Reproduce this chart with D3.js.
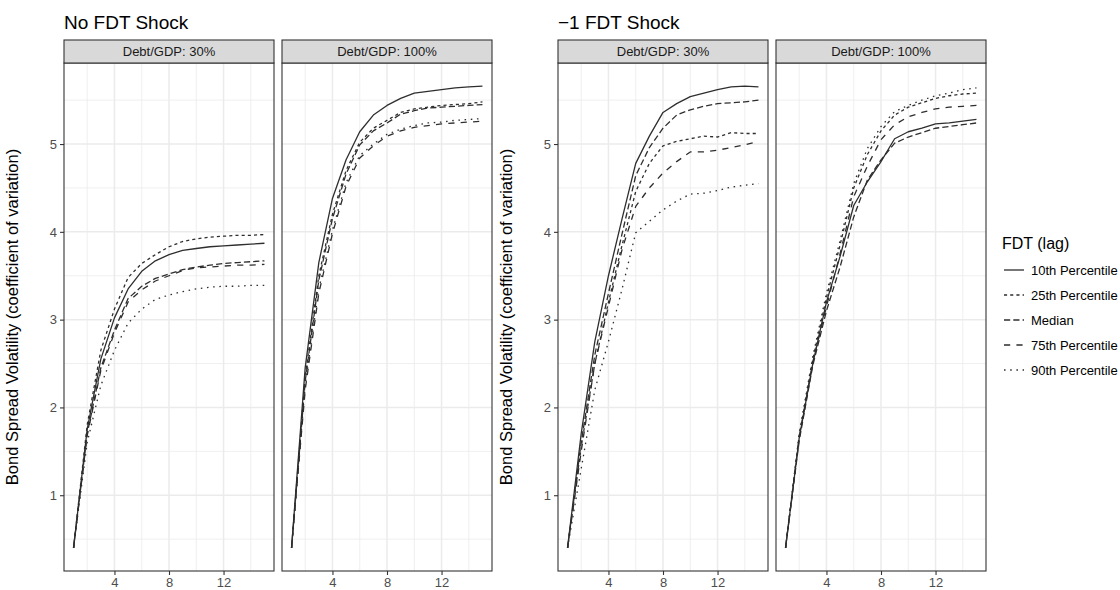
<!DOCTYPE html>
<html><head><meta charset="utf-8">
<script src="https://cdn.jsdelivr.net/npm/d3@7"></script>
<style>
html,body{margin:0;padding:0;background:#fff;}
svg{display:block;font-family:"Liberation Sans",Arial,Helvetica,sans-serif;}
</style></head>
<body>
<svg id="chart" width="1120" height="590"></svg>
<script>
// ---------------- data ----------------
const xs = [1,2,3,4,5,6,7,8,9,10,11,12,13,14,15];
const seriesNames = ["10th Percentile","25th Percentile","Median","75th Percentile","90th Percentile"];
const plotTitles = ["No FDT Shock","\u22121 FDT Shock"];
const stripLabels = ["Debt/GDP: 30%","Debt/GDP: 100%"];
const yAxisTitle = "Bond Spread Volatility (coefficient of variation)";
const legendTitle = "FDT (lag)";
const xTicks = [4,8,12];
const xMinor = [2,6,10,14];
const yTicks = [1,2,3,4,5];
const yMinor = [0.5,1.5,2.5,3.5,4.5,5.5];

// No FDT shock, Debt/GDP 30%
const noShock30_p10 = [0.40,1.75,2.55,3.02,3.35,3.55,3.67,3.74,3.79,3.81,3.83,3.84,3.85,3.86,3.87];
const noShock30_p25 = [0.40,1.80,2.65,3.12,3.48,3.64,3.74,3.83,3.89,3.92,3.94,3.95,3.96,3.96,3.97];
const noShock30_med = [0.40,1.70,2.45,2.88,3.24,3.38,3.47,3.52,3.57,3.60,3.62,3.64,3.65,3.66,3.67];
const noShock30_p75 = [0.40,1.68,2.42,2.85,3.20,3.34,3.44,3.50,3.56,3.59,3.60,3.61,3.62,3.62,3.63];
const noShock30_p90 = [0.40,1.60,2.25,2.65,2.96,3.12,3.23,3.28,3.32,3.35,3.37,3.38,3.38,3.39,3.39];
// No FDT shock, Debt/GDP 100%
const noShock100_p10 = [0.40,2.45,3.65,4.38,4.82,5.14,5.33,5.44,5.52,5.58,5.60,5.62,5.64,5.65,5.66];
const noShock100_p25 = [0.40,2.35,3.50,4.20,4.70,5.02,5.18,5.27,5.36,5.40,5.42,5.44,5.45,5.46,5.48];
const noShock100_med = [0.40,2.30,3.45,4.15,4.66,4.99,5.15,5.24,5.34,5.38,5.41,5.42,5.43,5.44,5.45];
const noShock100_p75 = [0.40,2.20,3.30,3.98,4.52,4.84,4.98,5.09,5.15,5.19,5.21,5.23,5.24,5.25,5.26];
const noShock100_p90 = [0.40,2.25,3.35,4.02,4.56,4.87,5.00,5.11,5.17,5.21,5.24,5.25,5.27,5.28,5.29];
// -1 FDT shock, Debt/GDP 30%
const shock30_p10 = [0.40,1.70,2.75,3.50,4.15,4.78,5.09,5.36,5.46,5.54,5.58,5.62,5.65,5.66,5.65];
const shock30_p25 = [0.40,1.55,2.50,3.20,3.85,4.46,4.78,4.98,5.03,5.06,5.09,5.08,5.13,5.12,5.12];
const shock30_med = [0.40,1.60,2.60,3.30,3.98,4.64,4.96,5.18,5.33,5.39,5.43,5.46,5.47,5.48,5.50];
const shock30_p75 = [0.40,1.50,2.50,3.15,3.80,4.29,4.50,4.67,4.80,4.91,4.91,4.93,4.96,4.99,5.03];
const shock30_p90 = [0.40,1.30,2.20,2.75,3.35,3.99,4.12,4.25,4.35,4.43,4.44,4.47,4.51,4.53,4.55];
// -1 FDT shock, Debt/GDP 100%
const shock100_p10 = [0.40,1.65,2.50,3.20,3.72,4.30,4.57,4.80,5.06,5.14,5.18,5.23,5.24,5.26,5.28];
const shock100_p25 = [0.40,1.68,2.55,3.25,3.85,4.50,4.88,5.15,5.33,5.42,5.47,5.52,5.55,5.57,5.58];
const shock100_med = [0.40,1.62,2.48,3.10,3.60,4.17,4.59,4.82,5.01,5.08,5.13,5.18,5.20,5.22,5.24];
const shock100_p75 = [0.40,1.66,2.52,3.15,3.75,4.40,4.75,5.05,5.22,5.31,5.36,5.40,5.42,5.43,5.44];
const shock100_p90 = [0.40,1.70,2.58,3.30,3.90,4.55,4.95,5.20,5.37,5.44,5.50,5.55,5.58,5.62,5.64];

const plots = [
  [[noShock30_p10,noShock30_p25,noShock30_med,noShock30_p75,noShock30_p90],
   [noShock100_p10,noShock100_p25,noShock100_med,noShock100_p75,noShock100_p90]],
  [[shock30_p10,shock30_p25,shock30_med,shock30_p75,shock30_p90],
   [shock100_p10,shock100_p25,shock100_med,shock100_p75,shock100_p90]]
];

// ---------------- styling / layout ----------------
const dashes = [null,"3.1,3.1","6.2,3.1","6.2,6.2","1.55,4.65"];
const lineColor = "#2e2e2e";
const lineWidth = 1.3;
const panelTop = 63, panelBottom = 571, stripTop = 40;
const panelX = [[64,274],[282,492],[558,768],[776,986]];

const svg = d3.select("#chart");

const allVals = plots.flat(3);
const yExt = d3.extent(allVals);
const yPad = (yExt[1]-yExt[0])*0.05;
const xExt = d3.extent(xs);
const xPad = (xExt[1]-xExt[0])*0.05;

const y = d3.scaleLinear().domain([yExt[0]-yPad, yExt[1]+yPad]).range([panelBottom, panelTop]);

plots.forEach((panels, pi) => {
  const firstLeft = panelX[pi*2][0];
  svg.append("text").attr("x", firstLeft).attr("y", 29)
    .attr("font-size", 19).attr("fill", "#000").text(plotTitles[pi]);
  const yTitleX = firstLeft - 46;
  svg.append("text")
    .attr("transform", `translate(${yTitleX},${(panelTop+panelBottom)/2}) rotate(-90)`)
    .attr("text-anchor","middle").attr("font-size", 16.5).attr("fill","#000")
    .text(yAxisTitle);

  panels.forEach((series, si) => {
    const [L, R] = panelX[pi*2+si];
    const x = d3.scaleLinear().domain([xExt[0]-xPad, xExt[1]+xPad]).range([L, R]);
    const g = svg.append("g");
    g.append("rect").attr("x",L).attr("y",panelTop).attr("width",R-L).attr("height",panelBottom-panelTop).attr("fill","#fff");
    g.selectAll(".gxm").data(xMinor).join("line")
      .attr("x1",d=>x(d)).attr("x2",d=>x(d)).attr("y1",panelTop).attr("y2",panelBottom)
      .attr("stroke","#EBEBEB").attr("stroke-width",0.8);
    g.selectAll(".gym").data(yMinor).join("line")
      .attr("y1",d=>y(d)).attr("y2",d=>y(d)).attr("x1",L).attr("x2",R)
      .attr("stroke","#EBEBEB").attr("stroke-width",0.8);
    g.selectAll(".gx").data(xTicks).join("line")
      .attr("x1",d=>x(d)).attr("x2",d=>x(d)).attr("y1",panelTop).attr("y2",panelBottom)
      .attr("stroke","#EBEBEB").attr("stroke-width",1.5);
    g.selectAll(".gy").data(yTicks).join("line")
      .attr("y1",d=>y(d)).attr("y2",d=>y(d)).attr("x1",L).attr("x2",R)
      .attr("stroke","#EBEBEB").attr("stroke-width",1.5);
    const lineGen = d3.line().x((d,i)=>x(xs[i])).y(d=>y(d));
    series.forEach((vals, k) => {
      g.append("path").datum(vals).attr("d", lineGen)
        .attr("fill","none").attr("stroke",lineColor).attr("stroke-width",lineWidth)
        .attr("stroke-dasharray", dashes[k]).attr("stroke-linejoin","round");
    });
    g.append("rect").attr("x",L).attr("y",panelTop).attr("width",R-L).attr("height",panelBottom-panelTop)
      .attr("fill","none").attr("stroke","#333").attr("stroke-width",1.1);
    g.append("rect").attr("x",L).attr("y",stripTop).attr("width",R-L).attr("height",panelTop-stripTop)
      .attr("fill","#D9D9D9").attr("stroke","#333").attr("stroke-width",1.1);
    g.append("text").attr("x",(L+R)/2).attr("y",(stripTop+panelTop)/2+4.5)
      .attr("text-anchor","middle").attr("font-size",13).attr("fill","#1A1A1A").text(stripLabels[si]);
    const xa = svg.append("g").attr("transform",`translate(0,${panelBottom})`)
      .call(d3.axisBottom(x).tickValues(xTicks).tickSize(4).tickPadding(3).tickFormat(d3.format("d")));
    xa.select(".domain").remove();
    xa.selectAll("line").attr("stroke","#333").attr("stroke-width",1.1);
    xa.selectAll("text").attr("font-size",13).attr("fill","#4D4D4D")
      .attr("font-family","Liberation Sans, Arial, sans-serif");
    if (si === 0) {
      const ya = svg.append("g").attr("transform",`translate(${L},0)`)
        .call(d3.axisLeft(y).tickValues(yTicks).tickSize(4).tickPadding(3).tickFormat(d3.format("d")));
      ya.select(".domain").remove();
      ya.selectAll("line").attr("stroke","#333").attr("stroke-width",1.1);
      ya.selectAll("text").attr("font-size",13).attr("fill","#4D4D4D")
        .attr("font-family","Liberation Sans, Arial, sans-serif");
    }
  });
});

// ---------------- legend ----------------
const lg = svg.append("g").attr("transform","translate(1002,0)");
lg.append("text").attr("x",0).attr("y",249).attr("font-size",16).attr("fill","#000").text(legendTitle);
const keyY = d3.scalePoint().domain(seriesNames).range([270,370]);
seriesNames.forEach((name,k)=>{
  lg.append("line").attr("x1",2).attr("x2",22).attr("y1",keyY(name)).attr("y2",keyY(name))
    .attr("stroke",lineColor).attr("stroke-width",lineWidth).attr("stroke-dasharray",dashes[k]);
  lg.append("text").attr("x",29).attr("y",keyY(name)+4.5).attr("font-size",13).attr("fill","#000").text(name);
});
</script>
</body></html>
